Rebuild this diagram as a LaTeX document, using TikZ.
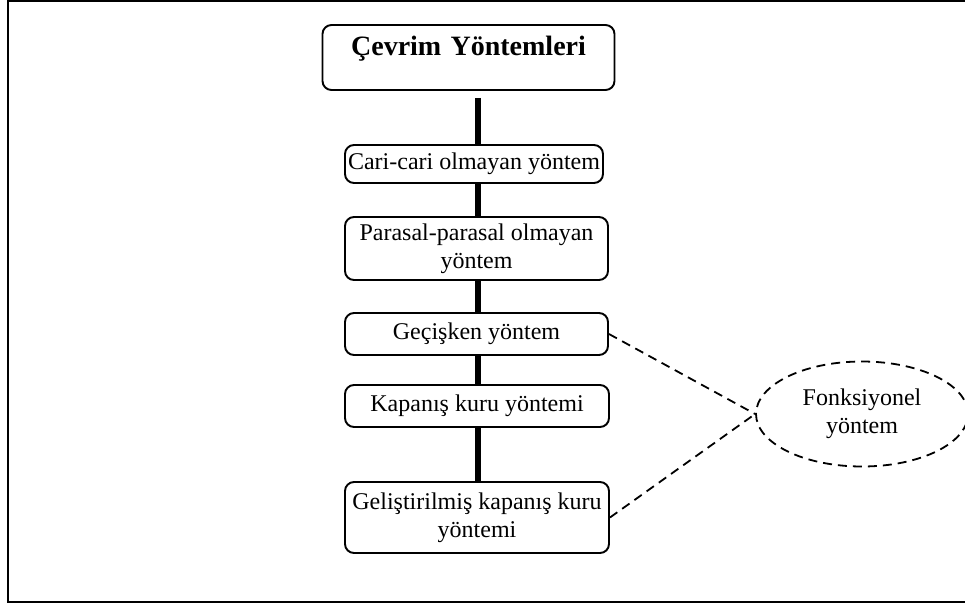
\documentclass[tikz,border=0pt]{standalone}
\usepackage{fontspec}
\setmainfont{Liberation Serif}
\usetikzlibrary{shapes.geometric}
\begin{document}
\begin{tikzpicture}[x=1pt,y=-1pt,
  box/.style={draw,line width=1.9pt,rounded corners=9pt,inner sep=0pt,align=center,
    font=\fontsize{24}{28}\selectfont},
  spineline/.style={line width=6.5pt},
  link/.style={line width=1.8pt,dash pattern=on 9pt off 6pt}]
\useasboundingbox (0,0) rectangle (965,605);
\clip (0,0) rectangle (965,605);
\draw[line width=2.4pt] (8,1) rectangle (980,602);
\node[box,minimum width=292pt,text width=292pt,text height=30pt,text depth=35pt,
  font=\fontsize{28}{32}\selectfont\bfseries] (title) at (468.5,57.5) {Çevrim Yöntemleri};
\node[box,minimum width=258pt,minimum height=38pt] (cari) at (474,164) {Cari-cari olmayan yöntem};
\node[box,minimum width=263pt,minimum height=63pt] (parasal) at (476.5,248.5) {Parasal-parasal olmayan\\yöntem};
\node[box,minimum width=263pt,minimum height=42pt] (gecis) at (476.5,334) {Geçişken yöntem};
\node[box,minimum width=264pt,minimum height=42pt] (kapanis) at (477,406) {Kapanış kuru yöntemi};
\node[box,minimum width=264pt,minimum height=71pt] (gelis) at (477,517.5) {Geliştirilmiş kapanış kuru\\yöntemi};
\node[ellipse,draw,link,minimum width=212pt,minimum height=105pt,inner sep=0pt,align=center,
  font=\fontsize{24}{28}\selectfont] (fonk) at (862,414) {Fonksiyonel\\yöntem};
\coordinate (sp) at (478,0);
\draw[spineline] ([yshift=-7pt]title.south -| sp) -- (cari.north -| sp);
\draw[spineline] (cari.south -| sp) -- (parasal.north -| sp);
\draw[spineline] (parasal.south -| sp) -- (gecis.north -| sp);
\draw[spineline] (gecis.south -| sp) -- (kapanis.north -| sp);
\draw[spineline] (kapanis.south -| sp) -- (gelis.north -| sp);
\draw[link] (gecis.east) -- (fonk.west);
\draw[link] (gelis.east) -- (fonk.west);
\end{tikzpicture}
\end{document}
